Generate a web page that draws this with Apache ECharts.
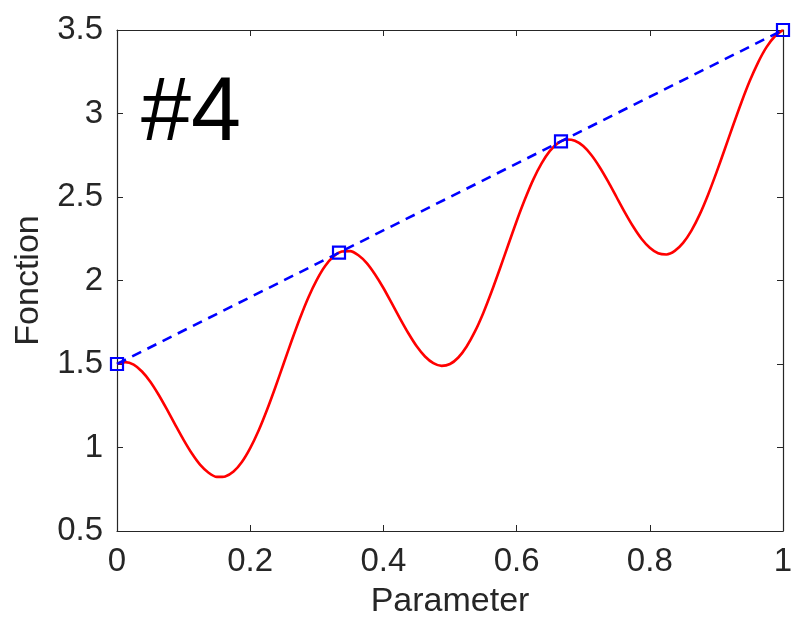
<!DOCTYPE html>
<html>
<head>
<meta charset="utf-8">
<script src="https://cdn.jsdelivr.net/npm/echarts@6/dist/echarts.min.js"></script>
<style>
  html, body { margin: 0; padding: 0; background: #fff; }
  #chart { width: 799px; height: 624px; }
</style>
</head>
<body>
<div id="chart"></div>
<script>
// Parameter samples (step 0.0125) and the function values along the curve
const paramValues = [
  0, 0.0125, 0.025, 0.0375, 0.05, 0.0625, 0.075, 0.0875, 0.1, 0.1125,
  0.125, 0.1375, 0.15, 0.1625, 0.175, 0.1875, 0.2, 0.2125, 0.225, 0.2375,
  0.25, 0.2625, 0.275, 0.2875, 0.3, 0.3125, 0.325, 0.3375, 0.35, 0.3625,
  0.375, 0.3875, 0.4, 0.4125, 0.425, 0.4375, 0.45, 0.4625, 0.475, 0.4875,
  0.5, 0.5125, 0.525, 0.5375, 0.55, 0.5625, 0.575, 0.5875, 0.6, 0.6125,
  0.625, 0.6375, 0.65, 0.6625, 0.675, 0.6875, 0.7, 0.7125, 0.725, 0.7375,
  0.75, 0.7625, 0.775, 0.7875, 0.8, 0.8125, 0.825, 0.8375, 0.85, 0.8625,
  0.875, 0.8875, 0.9, 0.9125, 0.925, 0.9375, 0.95, 0.9625, 0.975, 0.9875,
  1
];
const functionValues = [
  1.500, 1.511, 1.496, 1.455, 1.394, 1.316, 1.228, 1.136, 1.046, 0.964,
  0.896, 0.849, 0.824, 0.827, 0.856, 0.913, 0.996, 1.100, 1.223, 1.358,
  1.500, 1.642, 1.777, 1.900, 2.004, 2.087, 2.144, 2.173, 2.176, 2.151,
  2.104, 2.036, 1.955, 1.864, 1.772, 1.684, 1.606, 1.545, 1.505, 1.489,
  1.500, 1.539, 1.605, 1.695, 1.806, 1.934, 2.072, 2.214, 2.355, 2.486,
  2.604, 2.701, 2.776, 2.824, 2.844, 2.837, 2.805, 2.750, 2.677, 2.592,
  2.500, 2.408, 2.323, 2.250, 2.196, 2.163, 2.156, 2.177, 2.225, 2.299,
  2.396, 2.514, 2.646, 2.786, 2.928, 3.066, 3.194, 3.305, 3.396, 3.461,
  3.500
];

// Interpolation nodes joined by the dashed line
const nodeParams = [0, 1 / 3, 2 / 3, 1];
const nodeValues = [1.5, 2.1667, 2.8333, 3.5];

// Axis ticks
const xTicks = [0, 0.2, 0.4, 0.6, 0.8, 1];
const yTicks = [0.5, 1, 1.5, 2, 2.5, 3, 3.5];

const axisColor = '#262626';
const fontFamily = '"Liberation Sans", Arial, Helvetica, sans-serif';

const curveData = paramValues.map((p, i) => [p, functionValues[i]]);
const nodeData = nodeParams.map((p, i) => [p, nodeValues[i]]);

const tickStyle = { show: true, inside: true, length: 6, lineStyle: { color: axisColor, width: 1 } };
const lineStyleAxis = { show: true, onZero: false, lineStyle: { color: axisColor, width: 1.2 } };

const chart = echarts.init(document.getElementById('chart'), null, { renderer: 'canvas' });

chart.setOption({
  animation: false,
  backgroundColor: '#ffffff',
  grid: { left: 117, top: 30, right: 16, bottom: 87, containLabel: false },
  graphic: [{
    type: 'text',
    left: 141,
    top: 70,
    style: { text: '#4', font: '90px ' + fontFamily, fill: '#000000' }
  }],
  xAxis: [{
    type: 'value',
    min: xTicks[0],
    max: xTicks[xTicks.length - 1],
    interval: 0.2,
    name: 'Parameter',
    nameLocation: 'middle',
    nameGap: 54,
    nameTextStyle: { color: axisColor, fontSize: 34, fontFamily: fontFamily },
    axisLine: lineStyleAxis,
    axisTick: tickStyle,
    splitLine: { show: false },
    axisLabel: { color: axisColor, fontSize: 33, fontFamily: fontFamily, margin: 14 }
  }, {
    type: 'value',
    position: 'top',
    min: xTicks[0],
    max: xTicks[xTicks.length - 1],
    interval: 0.2,
    axisLine: lineStyleAxis,
    axisTick: tickStyle,
    splitLine: { show: false },
    axisLabel: { show: false }
  }],
  yAxis: [{
    type: 'value',
    min: yTicks[0],
    max: yTicks[yTicks.length - 1],
    interval: 0.5,
    name: 'Fonction',
    nameLocation: 'middle',
    nameGap: 71,
    nameTextStyle: { color: axisColor, fontSize: 34, fontFamily: fontFamily },
    axisLine: lineStyleAxis,
    axisTick: tickStyle,
    splitLine: { show: false },
    axisLabel: { color: axisColor, fontSize: 33, fontFamily: fontFamily, margin: 14 }
  }, {
    type: 'value',
    position: 'right',
    min: yTicks[0],
    max: yTicks[yTicks.length - 1],
    interval: 0.5,
    axisLine: lineStyleAxis,
    axisTick: tickStyle,
    splitLine: { show: false },
    axisLabel: { show: false }
  }],
  series: [{
    type: 'line',
    xAxisIndex: 0,
    yAxisIndex: 0,
    data: curveData,
    smooth: 0.25,
    showSymbol: false,
    lineStyle: { color: '#ff0000', width: 2.6, join: 'round' },
    z: 2
  }, {
    type: 'line',
    xAxisIndex: 0,
    yAxisIndex: 0,
    data: nodeData,
    clip: false,
    symbol: 'rect',
    symbolSize: 12,
    lineStyle: { color: '#0000ff', width: 2.6, type: [10, 7] },
    itemStyle: { color: 'rgba(255,255,255,0)', borderColor: '#0000ff', borderWidth: 2.2 },
    z: 3
  }]
});
</script>
</body>
</html>
